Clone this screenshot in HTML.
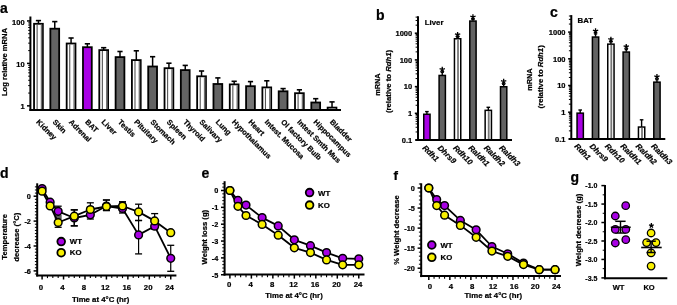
<!DOCTYPE html>
<html><head><meta charset="utf-8"><style>
html,body{margin:0;padding:0;background:#fff;width:677px;height:305px;overflow:hidden}
svg{display:block;will-change:transform}
text{font-family:"Liberation Sans", sans-serif;fill:#000;stroke:#000;stroke-width:0.22px}
</style></head><body>
<svg width="677" height="305" viewBox="0 0 677 305">
<rect width="677" height="305" fill="#fff"/>
<text x="0" y="13.3" font-size="14" font-weight="bold" text-anchor="start">a</text>
<line x1="38.45" y1="20.6" x2="38.45" y2="23.9" stroke="#000" stroke-width="1.5" stroke-linecap="butt"/>
<line x1="35.85" y1="20.6" x2="41.05" y2="20.6" stroke="#000" stroke-width="1.6" stroke-linecap="butt"/>
<rect x="34.05" y="23.8" width="8.8" height="86.1" fill="#fff" stroke="#000" stroke-width="1.8"/>
<rect x="36.57" y="24.7" width="1.1" height="85.2" fill="#555555"/>
<rect x="40.78" y="24.7" width="1.5" height="85.2" fill="#707070"/>
<text x="35.85" y="122.6" font-size="7.5" font-weight="bold" text-anchor="start" transform="rotate(45 35.85 122.6)">Kidney</text>
<line x1="54.76" y1="21.6" x2="54.76" y2="28.8" stroke="#000" stroke-width="1.5" stroke-linecap="butt"/>
<line x1="52.16" y1="21.6" x2="57.36" y2="21.6" stroke="#000" stroke-width="1.6" stroke-linecap="butt"/>
<rect x="50.36" y="28.7" width="8.8" height="81.2" fill="#636363" stroke="#000" stroke-width="1.8"/>
<text x="52.16" y="122.6" font-size="7.5" font-weight="bold" text-anchor="start" transform="rotate(45 52.16 122.6)">Skin</text>
<line x1="71.07" y1="38" x2="71.07" y2="43.6" stroke="#000" stroke-width="1.5" stroke-linecap="butt"/>
<line x1="68.47" y1="38" x2="73.67" y2="38" stroke="#000" stroke-width="1.6" stroke-linecap="butt"/>
<rect x="66.67" y="43.5" width="8.8" height="66.4" fill="#fff" stroke="#000" stroke-width="1.8"/>
<rect x="69.19" y="44.4" width="1.1" height="65.5" fill="#555555"/>
<rect x="73.4" y="44.4" width="1.5" height="65.5" fill="#707070"/>
<text x="68.47" y="122.6" font-size="7.5" font-weight="bold" text-anchor="start" transform="rotate(45 68.47 122.6)">Adrenal</text>
<line x1="87.38" y1="43.8" x2="87.38" y2="47.3" stroke="#000" stroke-width="1.5" stroke-linecap="butt"/>
<line x1="84.78" y1="43.8" x2="89.98" y2="43.8" stroke="#000" stroke-width="1.6" stroke-linecap="butt"/>
<rect x="82.98" y="47.2" width="8.8" height="62.7" fill="#a800e4" stroke="#000" stroke-width="1.8"/>
<text x="84.78" y="122.6" font-size="7.5" font-weight="bold" text-anchor="start" transform="rotate(45 84.78 122.6)">BAT</text>
<line x1="103.69" y1="47.7" x2="103.69" y2="50.2" stroke="#000" stroke-width="1.5" stroke-linecap="butt"/>
<line x1="101.09" y1="47.7" x2="106.29" y2="47.7" stroke="#000" stroke-width="1.6" stroke-linecap="butt"/>
<rect x="99.29" y="50.1" width="8.8" height="59.8" fill="#fff" stroke="#000" stroke-width="1.8"/>
<rect x="101.81" y="51" width="1.1" height="58.9" fill="#555555"/>
<rect x="106.02" y="51" width="1.5" height="58.9" fill="#707070"/>
<text x="101.09" y="122.6" font-size="7.5" font-weight="bold" text-anchor="start" transform="rotate(45 101.09 122.6)">Liver</text>
<line x1="120" y1="51.5" x2="120" y2="57.2" stroke="#000" stroke-width="1.5" stroke-linecap="butt"/>
<line x1="117.4" y1="51.5" x2="122.6" y2="51.5" stroke="#000" stroke-width="1.6" stroke-linecap="butt"/>
<rect x="115.6" y="57.1" width="8.8" height="52.8" fill="#636363" stroke="#000" stroke-width="1.8"/>
<text x="117.4" y="122.6" font-size="7.5" font-weight="bold" text-anchor="start" transform="rotate(45 117.4 122.6)">Testis</text>
<line x1="136.31" y1="50.8" x2="136.31" y2="60.2" stroke="#000" stroke-width="1.5" stroke-linecap="butt"/>
<line x1="133.71" y1="50.8" x2="138.91" y2="50.8" stroke="#000" stroke-width="1.6" stroke-linecap="butt"/>
<rect x="131.91" y="60.1" width="8.8" height="49.8" fill="#fff" stroke="#000" stroke-width="1.8"/>
<rect x="134.43" y="61" width="1.1" height="48.9" fill="#555555"/>
<rect x="138.64" y="61" width="1.5" height="48.9" fill="#707070"/>
<text x="133.71" y="122.6" font-size="7.5" font-weight="bold" text-anchor="start" transform="rotate(45 133.71 122.6)">Pituitary</text>
<line x1="152.62" y1="56.7" x2="152.62" y2="66.6" stroke="#000" stroke-width="1.5" stroke-linecap="butt"/>
<line x1="150.02" y1="56.7" x2="155.22" y2="56.7" stroke="#000" stroke-width="1.6" stroke-linecap="butt"/>
<rect x="148.22" y="66.5" width="8.8" height="43.4" fill="#636363" stroke="#000" stroke-width="1.8"/>
<text x="150.02" y="122.6" font-size="7.5" font-weight="bold" text-anchor="start" transform="rotate(45 150.02 122.6)">Stomach</text>
<line x1="168.93" y1="63.2" x2="168.93" y2="68.3" stroke="#000" stroke-width="1.5" stroke-linecap="butt"/>
<line x1="166.33" y1="63.2" x2="171.53" y2="63.2" stroke="#000" stroke-width="1.6" stroke-linecap="butt"/>
<rect x="164.53" y="68.2" width="8.8" height="41.7" fill="#fff" stroke="#000" stroke-width="1.8"/>
<rect x="167.05" y="69.1" width="1.1" height="40.8" fill="#555555"/>
<rect x="171.26" y="69.1" width="1.5" height="40.8" fill="#707070"/>
<text x="166.33" y="122.6" font-size="7.5" font-weight="bold" text-anchor="start" transform="rotate(45 166.33 122.6)">Spleen</text>
<line x1="185.24" y1="65.4" x2="185.24" y2="70.2" stroke="#000" stroke-width="1.5" stroke-linecap="butt"/>
<line x1="182.64" y1="65.4" x2="187.84" y2="65.4" stroke="#000" stroke-width="1.6" stroke-linecap="butt"/>
<rect x="180.84" y="70.1" width="8.8" height="39.8" fill="#636363" stroke="#000" stroke-width="1.8"/>
<text x="182.64" y="122.6" font-size="7.5" font-weight="bold" text-anchor="start" transform="rotate(45 182.64 122.6)">Thyroid</text>
<line x1="201.55" y1="71" x2="201.55" y2="76.4" stroke="#000" stroke-width="1.5" stroke-linecap="butt"/>
<line x1="198.95" y1="71" x2="204.15" y2="71" stroke="#000" stroke-width="1.6" stroke-linecap="butt"/>
<rect x="197.15" y="76.3" width="8.8" height="33.6" fill="#fff" stroke="#000" stroke-width="1.8"/>
<rect x="199.67" y="77.2" width="1.1" height="32.7" fill="#555555"/>
<rect x="203.88" y="77.2" width="1.5" height="32.7" fill="#707070"/>
<text x="198.95" y="122.6" font-size="7.5" font-weight="bold" text-anchor="start" transform="rotate(45 198.95 122.6)">Salivary</text>
<line x1="217.86" y1="77.9" x2="217.86" y2="84.1" stroke="#000" stroke-width="1.5" stroke-linecap="butt"/>
<line x1="215.26" y1="77.9" x2="220.46" y2="77.9" stroke="#000" stroke-width="1.6" stroke-linecap="butt"/>
<rect x="213.46" y="84" width="8.8" height="25.9" fill="#636363" stroke="#000" stroke-width="1.8"/>
<text x="215.26" y="122.6" font-size="7.5" font-weight="bold" text-anchor="start" transform="rotate(45 215.26 122.6)">Lung</text>
<line x1="234.17" y1="81.3" x2="234.17" y2="84.5" stroke="#000" stroke-width="1.5" stroke-linecap="butt"/>
<line x1="231.57" y1="81.3" x2="236.77" y2="81.3" stroke="#000" stroke-width="1.6" stroke-linecap="butt"/>
<rect x="229.77" y="84.4" width="8.8" height="25.5" fill="#fff" stroke="#000" stroke-width="1.8"/>
<rect x="232.29" y="85.3" width="1.1" height="24.6" fill="#555555"/>
<rect x="236.5" y="85.3" width="1.5" height="24.6" fill="#707070"/>
<text x="231.57" y="122.6" font-size="7.5" font-weight="bold" text-anchor="start" transform="rotate(45 231.57 122.6)">Hypothalamus</text>
<line x1="250.48" y1="81.6" x2="250.48" y2="86.3" stroke="#000" stroke-width="1.5" stroke-linecap="butt"/>
<line x1="247.88" y1="81.6" x2="253.08" y2="81.6" stroke="#000" stroke-width="1.6" stroke-linecap="butt"/>
<rect x="246.08" y="86.2" width="8.8" height="23.7" fill="#767676" stroke="#000" stroke-width="1.8"/>
<text x="247.88" y="122.6" font-size="7.5" font-weight="bold" text-anchor="start" transform="rotate(45 247.88 122.6)">Heart</text>
<line x1="266.79" y1="80.8" x2="266.79" y2="87.5" stroke="#000" stroke-width="1.5" stroke-linecap="butt"/>
<line x1="264.19" y1="80.8" x2="269.39" y2="80.8" stroke="#000" stroke-width="1.6" stroke-linecap="butt"/>
<rect x="262.39" y="87.4" width="8.8" height="22.5" fill="#fff" stroke="#000" stroke-width="1.8"/>
<rect x="264.91" y="88.3" width="1.1" height="21.6" fill="#555555"/>
<rect x="269.12" y="88.3" width="1.5" height="21.6" fill="#707070"/>
<text x="264.19" y="122.6" font-size="7.5" font-weight="bold" text-anchor="start" transform="rotate(45 264.19 122.6)">Intest. Mucosa</text>
<line x1="283.1" y1="88.6" x2="283.1" y2="91.4" stroke="#000" stroke-width="1.5" stroke-linecap="butt"/>
<line x1="280.5" y1="88.6" x2="285.7" y2="88.6" stroke="#000" stroke-width="1.6" stroke-linecap="butt"/>
<rect x="278.7" y="91.3" width="8.8" height="18.6" fill="#636363" stroke="#000" stroke-width="1.8"/>
<text x="280.5" y="122.6" font-size="7.5" font-weight="bold" text-anchor="start" transform="rotate(45 280.5 122.6)">Ol factory Bulb</text>
<line x1="299.41" y1="89.8" x2="299.41" y2="93.3" stroke="#000" stroke-width="1.5" stroke-linecap="butt"/>
<line x1="296.81" y1="89.8" x2="302.01" y2="89.8" stroke="#000" stroke-width="1.6" stroke-linecap="butt"/>
<rect x="295.01" y="93.2" width="8.8" height="16.7" fill="#fff" stroke="#000" stroke-width="1.8"/>
<rect x="297.53" y="94.1" width="1.1" height="15.8" fill="#555555"/>
<rect x="301.74" y="94.1" width="1.5" height="15.8" fill="#707070"/>
<text x="296.81" y="122.6" font-size="7.5" font-weight="bold" text-anchor="start" transform="rotate(45 296.81 122.6)">Intest Smth Mus</text>
<line x1="315.72" y1="98.7" x2="315.72" y2="102.6" stroke="#000" stroke-width="1.5" stroke-linecap="butt"/>
<line x1="313.12" y1="98.7" x2="318.32" y2="98.7" stroke="#000" stroke-width="1.6" stroke-linecap="butt"/>
<rect x="311.32" y="102.5" width="8.8" height="7.4" fill="#636363" stroke="#000" stroke-width="1.8"/>
<text x="313.12" y="122.6" font-size="7.5" font-weight="bold" text-anchor="start" transform="rotate(45 313.12 122.6)">Hippocampus</text>
<line x1="332.03" y1="101.9" x2="332.03" y2="107.7" stroke="#000" stroke-width="1.5" stroke-linecap="butt"/>
<line x1="329.43" y1="101.9" x2="334.63" y2="101.9" stroke="#000" stroke-width="1.6" stroke-linecap="butt"/>
<rect x="327.63" y="107.6" width="8.8" height="2.3" fill="#fff" stroke="#000" stroke-width="1.8"/>
<rect x="330.15" y="108.5" width="1.1" height="1.4" fill="#555555"/>
<rect x="334.36" y="108.5" width="1.5" height="1.4" fill="#707070"/>
<text x="329.43" y="122.6" font-size="7.5" font-weight="bold" text-anchor="start" transform="rotate(45 329.43 122.6)">Bladder</text>
<line x1="30.4" y1="16.5" x2="30.4" y2="110.9" stroke="#000" stroke-width="2" stroke-linecap="butt"/>
<line x1="29.4" y1="109.9" x2="341" y2="109.9" stroke="#000" stroke-width="2" stroke-linecap="butt"/>
<line x1="27" y1="20.95" x2="30.4" y2="20.95" stroke="#000" stroke-width="1.5" stroke-linecap="butt"/>
<text x="24.6" y="24.55" font-size="7.5" font-weight="bold" text-anchor="end">100</text>
<line x1="27" y1="63.4" x2="30.4" y2="63.4" stroke="#000" stroke-width="1.5" stroke-linecap="butt"/>
<text x="24.6" y="67" font-size="7.5" font-weight="bold" text-anchor="end">10</text>
<line x1="27" y1="105.85" x2="30.4" y2="105.85" stroke="#000" stroke-width="1.5" stroke-linecap="butt"/>
<text x="24.6" y="109.45" font-size="7.5" font-weight="bold" text-anchor="end">1</text>
<line x1="28.2" y1="93.07" x2="30.4" y2="93.07" stroke="#000" stroke-width="1" stroke-linecap="butt"/>
<line x1="28.2" y1="85.6" x2="30.4" y2="85.6" stroke="#000" stroke-width="1" stroke-linecap="butt"/>
<line x1="28.2" y1="80.29" x2="30.4" y2="80.29" stroke="#000" stroke-width="1" stroke-linecap="butt"/>
<line x1="28.2" y1="76.18" x2="30.4" y2="76.18" stroke="#000" stroke-width="1" stroke-linecap="butt"/>
<line x1="28.2" y1="72.82" x2="30.4" y2="72.82" stroke="#000" stroke-width="1" stroke-linecap="butt"/>
<line x1="28.2" y1="69.98" x2="30.4" y2="69.98" stroke="#000" stroke-width="1" stroke-linecap="butt"/>
<line x1="28.2" y1="67.51" x2="30.4" y2="67.51" stroke="#000" stroke-width="1" stroke-linecap="butt"/>
<line x1="28.2" y1="65.34" x2="30.4" y2="65.34" stroke="#000" stroke-width="1" stroke-linecap="butt"/>
<line x1="28.2" y1="50.62" x2="30.4" y2="50.62" stroke="#000" stroke-width="1" stroke-linecap="butt"/>
<line x1="28.2" y1="43.15" x2="30.4" y2="43.15" stroke="#000" stroke-width="1" stroke-linecap="butt"/>
<line x1="28.2" y1="37.84" x2="30.4" y2="37.84" stroke="#000" stroke-width="1" stroke-linecap="butt"/>
<line x1="28.2" y1="33.73" x2="30.4" y2="33.73" stroke="#000" stroke-width="1" stroke-linecap="butt"/>
<line x1="28.2" y1="30.37" x2="30.4" y2="30.37" stroke="#000" stroke-width="1" stroke-linecap="butt"/>
<line x1="28.2" y1="27.53" x2="30.4" y2="27.53" stroke="#000" stroke-width="1" stroke-linecap="butt"/>
<line x1="28.2" y1="25.06" x2="30.4" y2="25.06" stroke="#000" stroke-width="1" stroke-linecap="butt"/>
<line x1="28.2" y1="22.89" x2="30.4" y2="22.89" stroke="#000" stroke-width="1" stroke-linecap="butt"/>
<text x="7.3" y="62" font-size="7" font-weight="bold" text-anchor="middle" transform="rotate(-90 7.3 62)" textLength="68.2" lengthAdjust="spacingAndGlyphs">Log relative mRNA</text>
<line x1="426.9" y1="111.6" x2="426.9" y2="114.5" stroke="#000" stroke-width="1.4" stroke-linecap="butt"/>
<line x1="425.1" y1="111.6" x2="428.7" y2="111.6" stroke="#000" stroke-width="1.4" stroke-linecap="butt"/>
<rect x="423.75" y="114.25" width="6.3" height="25.75" fill="#a800e4" stroke="#000" stroke-width="1.5"/>
<text x="422" y="148.4" font-size="7.8" font-weight="bold" text-anchor="start" font-style="italic" transform="rotate(45 422 148.4)">Rdh1</text>
<rect x="439.1" y="75.45" width="6.3" height="64.55" fill="#636363" stroke="#000" stroke-width="1.5"/>
<line x1="442.25" y1="70.5" x2="442.25" y2="75.2" stroke="#000" stroke-width="1.4" stroke-linecap="butt"/>
<line x1="440.65" y1="72.4" x2="443.85" y2="72.4" stroke="#000" stroke-width="1.3" stroke-linecap="butt"/>
<path d="M442.25,69.5L442.25,66.7M442.25,69.5L444.91,68.63M442.25,69.5L443.9,71.77M442.25,69.5L440.6,71.77M442.25,69.5L439.59,68.63" stroke="#000" stroke-width="1.3" stroke-linecap="butt" fill="none"/>
<text x="437.35" y="148.4" font-size="7.8" font-weight="bold" text-anchor="start" font-style="italic" transform="rotate(45 437.35 148.4)">Dhrs9</text>
<line x1="457.6" y1="36.5" x2="457.6" y2="39" stroke="#000" stroke-width="1.4" stroke-linecap="butt"/>
<line x1="455.8" y1="36.5" x2="459.4" y2="36.5" stroke="#000" stroke-width="1.4" stroke-linecap="butt"/>
<rect x="454.45" y="38.75" width="6.3" height="101.25" fill="#fff" stroke="#000" stroke-width="1.5"/>
<rect x="457.1" y="39.5" width="1.8" height="100.5" fill="#777777"/>
<line x1="457.6" y1="35.7" x2="457.6" y2="38.5" stroke="#000" stroke-width="1.4" stroke-linecap="butt"/>
<line x1="456.1" y1="37" x2="459.1" y2="37" stroke="#000" stroke-width="1.6" stroke-linecap="butt"/>
<path d="M457.6,34.7L457.6,31.9M457.6,34.7L460.26,33.83M457.6,34.7L459.25,36.97M457.6,34.7L455.95,36.97M457.6,34.7L454.94,33.83" stroke="#000" stroke-width="1.3" stroke-linecap="butt" fill="none"/>
<text x="452.7" y="148.4" font-size="7.8" font-weight="bold" text-anchor="start" font-style="italic" transform="rotate(45 452.7 148.4)">Rdh10</text>
<rect x="469.8" y="21.05" width="6.3" height="118.95" fill="#636363" stroke="#000" stroke-width="1.5"/>
<line x1="472.95" y1="18" x2="472.95" y2="20.8" stroke="#000" stroke-width="1.4" stroke-linecap="butt"/>
<line x1="471.45" y1="19.3" x2="474.45" y2="19.3" stroke="#000" stroke-width="1.6" stroke-linecap="butt"/>
<path d="M472.95,17L472.95,14.2M472.95,17L475.61,16.13M472.95,17L474.6,19.27M472.95,17L471.3,19.27M472.95,17L470.29,16.13" stroke="#000" stroke-width="1.3" stroke-linecap="butt" fill="none"/>
<text x="468.05" y="148.4" font-size="7.8" font-weight="bold" text-anchor="start" font-style="italic" transform="rotate(45 468.05 148.4)">Raldh1</text>
<line x1="488.3" y1="107.3" x2="488.3" y2="110.6" stroke="#000" stroke-width="1.4" stroke-linecap="butt"/>
<line x1="486.5" y1="107.3" x2="490.1" y2="107.3" stroke="#000" stroke-width="1.4" stroke-linecap="butt"/>
<rect x="485.15" y="110.35" width="6.3" height="29.65" fill="#fff" stroke="#000" stroke-width="1.5"/>
<rect x="487.8" y="111.1" width="1.8" height="28.9" fill="#777777"/>
<text x="483.4" y="148.4" font-size="7.8" font-weight="bold" text-anchor="start" font-style="italic" transform="rotate(45 483.4 148.4)">Raldh2</text>
<rect x="500.5" y="86.75" width="6.3" height="53.25" fill="#636363" stroke="#000" stroke-width="1.5"/>
<line x1="503.65" y1="82.5" x2="503.65" y2="86.5" stroke="#000" stroke-width="1.4" stroke-linecap="butt"/>
<line x1="502.05" y1="84.4" x2="505.25" y2="84.4" stroke="#000" stroke-width="1.3" stroke-linecap="butt"/>
<path d="M503.65,81.5L503.65,78.7M503.65,81.5L506.31,80.63M503.65,81.5L505.3,83.77M503.65,81.5L502,83.77M503.65,81.5L500.99,80.63" stroke="#000" stroke-width="1.3" stroke-linecap="butt" fill="none"/>
<text x="498.75" y="148.4" font-size="7.8" font-weight="bold" text-anchor="start" font-style="italic" transform="rotate(45 498.75 148.4)">Raldh3</text>
<line x1="418" y1="16.2" x2="418" y2="141" stroke="#000" stroke-width="2" stroke-linecap="butt"/>
<line x1="415.2" y1="140" x2="512" y2="140" stroke="#000" stroke-width="2" stroke-linecap="butt"/>
<line x1="414.8" y1="33.2" x2="418" y2="33.2" stroke="#000" stroke-width="1.5" stroke-linecap="butt"/>
<text x="412.2" y="36" font-size="7.5" font-weight="bold" text-anchor="end">1000</text>
<line x1="414.8" y1="59.9" x2="418" y2="59.9" stroke="#000" stroke-width="1.5" stroke-linecap="butt"/>
<text x="412.2" y="62.7" font-size="7.5" font-weight="bold" text-anchor="end">100</text>
<line x1="414.8" y1="86.6" x2="418" y2="86.6" stroke="#000" stroke-width="1.5" stroke-linecap="butt"/>
<text x="412.2" y="89.4" font-size="7.5" font-weight="bold" text-anchor="end">10</text>
<line x1="414.8" y1="113.3" x2="418" y2="113.3" stroke="#000" stroke-width="1.5" stroke-linecap="butt"/>
<text x="412.2" y="116.1" font-size="7.5" font-weight="bold" text-anchor="end">1</text>
<text x="412.2" y="142.8" font-size="7.5" font-weight="bold" text-anchor="end">0.1</text>
<line x1="415.6" y1="131.96" x2="418" y2="131.96" stroke="#000" stroke-width="1" stroke-linecap="butt"/>
<line x1="415.6" y1="127.26" x2="418" y2="127.26" stroke="#000" stroke-width="1" stroke-linecap="butt"/>
<line x1="415.6" y1="123.92" x2="418" y2="123.92" stroke="#000" stroke-width="1" stroke-linecap="butt"/>
<line x1="415.6" y1="121.34" x2="418" y2="121.34" stroke="#000" stroke-width="1" stroke-linecap="butt"/>
<line x1="415.6" y1="119.22" x2="418" y2="119.22" stroke="#000" stroke-width="1" stroke-linecap="butt"/>
<line x1="415.6" y1="117.44" x2="418" y2="117.44" stroke="#000" stroke-width="1" stroke-linecap="butt"/>
<line x1="415.6" y1="115.89" x2="418" y2="115.89" stroke="#000" stroke-width="1" stroke-linecap="butt"/>
<line x1="415.6" y1="114.52" x2="418" y2="114.52" stroke="#000" stroke-width="1" stroke-linecap="butt"/>
<line x1="415.6" y1="105.26" x2="418" y2="105.26" stroke="#000" stroke-width="1" stroke-linecap="butt"/>
<line x1="415.6" y1="100.56" x2="418" y2="100.56" stroke="#000" stroke-width="1" stroke-linecap="butt"/>
<line x1="415.6" y1="97.22" x2="418" y2="97.22" stroke="#000" stroke-width="1" stroke-linecap="butt"/>
<line x1="415.6" y1="94.64" x2="418" y2="94.64" stroke="#000" stroke-width="1" stroke-linecap="butt"/>
<line x1="415.6" y1="92.52" x2="418" y2="92.52" stroke="#000" stroke-width="1" stroke-linecap="butt"/>
<line x1="415.6" y1="90.74" x2="418" y2="90.74" stroke="#000" stroke-width="1" stroke-linecap="butt"/>
<line x1="415.6" y1="89.19" x2="418" y2="89.19" stroke="#000" stroke-width="1" stroke-linecap="butt"/>
<line x1="415.6" y1="87.82" x2="418" y2="87.82" stroke="#000" stroke-width="1" stroke-linecap="butt"/>
<line x1="415.6" y1="78.56" x2="418" y2="78.56" stroke="#000" stroke-width="1" stroke-linecap="butt"/>
<line x1="415.6" y1="73.86" x2="418" y2="73.86" stroke="#000" stroke-width="1" stroke-linecap="butt"/>
<line x1="415.6" y1="70.52" x2="418" y2="70.52" stroke="#000" stroke-width="1" stroke-linecap="butt"/>
<line x1="415.6" y1="67.94" x2="418" y2="67.94" stroke="#000" stroke-width="1" stroke-linecap="butt"/>
<line x1="415.6" y1="65.82" x2="418" y2="65.82" stroke="#000" stroke-width="1" stroke-linecap="butt"/>
<line x1="415.6" y1="64.04" x2="418" y2="64.04" stroke="#000" stroke-width="1" stroke-linecap="butt"/>
<line x1="415.6" y1="62.49" x2="418" y2="62.49" stroke="#000" stroke-width="1" stroke-linecap="butt"/>
<line x1="415.6" y1="61.12" x2="418" y2="61.12" stroke="#000" stroke-width="1" stroke-linecap="butt"/>
<line x1="415.6" y1="51.86" x2="418" y2="51.86" stroke="#000" stroke-width="1" stroke-linecap="butt"/>
<line x1="415.6" y1="47.16" x2="418" y2="47.16" stroke="#000" stroke-width="1" stroke-linecap="butt"/>
<line x1="415.6" y1="43.82" x2="418" y2="43.82" stroke="#000" stroke-width="1" stroke-linecap="butt"/>
<line x1="415.6" y1="41.24" x2="418" y2="41.24" stroke="#000" stroke-width="1" stroke-linecap="butt"/>
<line x1="415.6" y1="39.12" x2="418" y2="39.12" stroke="#000" stroke-width="1" stroke-linecap="butt"/>
<line x1="415.6" y1="37.34" x2="418" y2="37.34" stroke="#000" stroke-width="1" stroke-linecap="butt"/>
<line x1="415.6" y1="35.79" x2="418" y2="35.79" stroke="#000" stroke-width="1" stroke-linecap="butt"/>
<line x1="415.6" y1="34.42" x2="418" y2="34.42" stroke="#000" stroke-width="1" stroke-linecap="butt"/>
<line x1="415.6" y1="25.16" x2="418" y2="25.16" stroke="#000" stroke-width="1" stroke-linecap="butt"/>
<line x1="415.6" y1="20.46" x2="418" y2="20.46" stroke="#000" stroke-width="1" stroke-linecap="butt"/>
<line x1="415.6" y1="17.12" x2="418" y2="17.12" stroke="#000" stroke-width="1" stroke-linecap="butt"/>
<text x="424.8" y="25" font-size="7.8" font-weight="bold" text-anchor="start">Liver</text>
<text x="376" y="20" font-size="14" font-weight="bold" text-anchor="start">b</text>
<text x="380.3" y="84.6" font-size="7" font-weight="bold" text-anchor="middle" transform="rotate(-90 380.3 84.6)" textLength="22.5" lengthAdjust="spacingAndGlyphs">mRNA</text>
<text x="391.3" y="81.4" font-size="7" font-weight="bold" text-anchor="middle" transform="rotate(-90 391.3 81.4)" textLength="63.2" lengthAdjust="spacingAndGlyphs">(relative to <tspan font-style="italic">Rdh1</tspan>)</text>
<line x1="580.2" y1="110" x2="580.2" y2="113.4" stroke="#000" stroke-width="1.4" stroke-linecap="butt"/>
<line x1="578.4" y1="110" x2="582" y2="110" stroke="#000" stroke-width="1.4" stroke-linecap="butt"/>
<rect x="577.05" y="113.15" width="6.3" height="25.75" fill="#a800e4" stroke="#000" stroke-width="1.5"/>
<text x="573.9" y="146.8" font-size="7.8" font-weight="bold" text-anchor="start" font-style="italic" transform="rotate(45 573.9 146.8)">Rdh1</text>
<rect x="592.4" y="37.05" width="6.3" height="101.85" fill="#636363" stroke="#000" stroke-width="1.5"/>
<line x1="595.55" y1="32.1" x2="595.55" y2="36.8" stroke="#000" stroke-width="1.4" stroke-linecap="butt"/>
<line x1="593.95" y1="34" x2="597.15" y2="34" stroke="#000" stroke-width="1.3" stroke-linecap="butt"/>
<path d="M595.55,31.1L595.55,28.3M595.55,31.1L598.21,30.23M595.55,31.1L597.2,33.37M595.55,31.1L593.9,33.37M595.55,31.1L592.89,30.23" stroke="#000" stroke-width="1.3" stroke-linecap="butt" fill="none"/>
<text x="589.25" y="146.8" font-size="7.8" font-weight="bold" text-anchor="start" font-style="italic" transform="rotate(45 589.25 146.8)">Dhrs9</text>
<rect x="607.75" y="44.15" width="6.3" height="94.75" fill="#fff" stroke="#000" stroke-width="1.5"/>
<rect x="610.4" y="44.9" width="1.8" height="94" fill="#777777"/>
<line x1="610.9" y1="40.5" x2="610.9" y2="43.9" stroke="#000" stroke-width="1.4" stroke-linecap="butt"/>
<line x1="609.4" y1="41.8" x2="612.4" y2="41.8" stroke="#000" stroke-width="1.6" stroke-linecap="butt"/>
<path d="M610.9,39.5L610.9,36.7M610.9,39.5L613.56,38.63M610.9,39.5L612.55,41.77M610.9,39.5L609.25,41.77M610.9,39.5L608.24,38.63" stroke="#000" stroke-width="1.3" stroke-linecap="butt" fill="none"/>
<text x="604.6" y="146.8" font-size="7.8" font-weight="bold" text-anchor="start" font-style="italic" transform="rotate(45 604.6 146.8)">Rdh10</text>
<rect x="623.1" y="52.05" width="6.3" height="86.85" fill="#636363" stroke="#000" stroke-width="1.5"/>
<line x1="626.25" y1="47.7" x2="626.25" y2="51.8" stroke="#000" stroke-width="1.4" stroke-linecap="butt"/>
<line x1="624.65" y1="49.6" x2="627.85" y2="49.6" stroke="#000" stroke-width="1.3" stroke-linecap="butt"/>
<path d="M626.25,46.7L626.25,43.9M626.25,46.7L628.91,45.83M626.25,46.7L627.9,48.97M626.25,46.7L624.6,48.97M626.25,46.7L623.59,45.83" stroke="#000" stroke-width="1.3" stroke-linecap="butt" fill="none"/>
<text x="619.95" y="146.8" font-size="7.8" font-weight="bold" text-anchor="start" font-style="italic" transform="rotate(45 619.95 146.8)">Raldh1</text>
<line x1="641.6" y1="119.8" x2="641.6" y2="127.3" stroke="#000" stroke-width="1.4" stroke-linecap="butt"/>
<line x1="639.8" y1="119.8" x2="643.4" y2="119.8" stroke="#000" stroke-width="1.4" stroke-linecap="butt"/>
<rect x="638.45" y="127.05" width="6.3" height="11.85" fill="#fff" stroke="#000" stroke-width="1.5"/>
<rect x="641.1" y="127.8" width="1.8" height="11.1" fill="#777777"/>
<text x="635.3" y="146.8" font-size="7.8" font-weight="bold" text-anchor="start" font-style="italic" transform="rotate(45 635.3 146.8)">Raldh2</text>
<rect x="653.8" y="82.15" width="6.3" height="56.75" fill="#636363" stroke="#000" stroke-width="1.5"/>
<line x1="656.95" y1="77.8" x2="656.95" y2="81.9" stroke="#000" stroke-width="1.4" stroke-linecap="butt"/>
<line x1="655.35" y1="79.7" x2="658.55" y2="79.7" stroke="#000" stroke-width="1.3" stroke-linecap="butt"/>
<path d="M656.95,76.8L656.95,74M656.95,76.8L659.61,75.93M656.95,76.8L658.6,79.07M656.95,76.8L655.3,79.07M656.95,76.8L654.29,75.93" stroke="#000" stroke-width="1.3" stroke-linecap="butt" fill="none"/>
<text x="650.65" y="146.8" font-size="7.8" font-weight="bold" text-anchor="start" font-style="italic" transform="rotate(45 650.65 146.8)">Raldh3</text>
<line x1="571.3" y1="15.1" x2="571.3" y2="139.9" stroke="#000" stroke-width="2" stroke-linecap="butt"/>
<line x1="568.5" y1="138.9" x2="665.3" y2="138.9" stroke="#000" stroke-width="2" stroke-linecap="butt"/>
<line x1="568.1" y1="32.1" x2="571.3" y2="32.1" stroke="#000" stroke-width="1.5" stroke-linecap="butt"/>
<text x="565.5" y="34.9" font-size="7.5" font-weight="bold" text-anchor="end">1000</text>
<line x1="568.1" y1="58.8" x2="571.3" y2="58.8" stroke="#000" stroke-width="1.5" stroke-linecap="butt"/>
<text x="565.5" y="61.6" font-size="7.5" font-weight="bold" text-anchor="end">100</text>
<line x1="568.1" y1="85.5" x2="571.3" y2="85.5" stroke="#000" stroke-width="1.5" stroke-linecap="butt"/>
<text x="565.5" y="88.3" font-size="7.5" font-weight="bold" text-anchor="end">10</text>
<line x1="568.1" y1="112.2" x2="571.3" y2="112.2" stroke="#000" stroke-width="1.5" stroke-linecap="butt"/>
<text x="565.5" y="115" font-size="7.5" font-weight="bold" text-anchor="end">1</text>
<text x="565.5" y="141.7" font-size="7.5" font-weight="bold" text-anchor="end">0.1</text>
<line x1="568.9" y1="130.86" x2="571.3" y2="130.86" stroke="#000" stroke-width="1" stroke-linecap="butt"/>
<line x1="568.9" y1="126.16" x2="571.3" y2="126.16" stroke="#000" stroke-width="1" stroke-linecap="butt"/>
<line x1="568.9" y1="122.82" x2="571.3" y2="122.82" stroke="#000" stroke-width="1" stroke-linecap="butt"/>
<line x1="568.9" y1="120.24" x2="571.3" y2="120.24" stroke="#000" stroke-width="1" stroke-linecap="butt"/>
<line x1="568.9" y1="118.12" x2="571.3" y2="118.12" stroke="#000" stroke-width="1" stroke-linecap="butt"/>
<line x1="568.9" y1="116.34" x2="571.3" y2="116.34" stroke="#000" stroke-width="1" stroke-linecap="butt"/>
<line x1="568.9" y1="114.79" x2="571.3" y2="114.79" stroke="#000" stroke-width="1" stroke-linecap="butt"/>
<line x1="568.9" y1="113.42" x2="571.3" y2="113.42" stroke="#000" stroke-width="1" stroke-linecap="butt"/>
<line x1="568.9" y1="104.16" x2="571.3" y2="104.16" stroke="#000" stroke-width="1" stroke-linecap="butt"/>
<line x1="568.9" y1="99.46" x2="571.3" y2="99.46" stroke="#000" stroke-width="1" stroke-linecap="butt"/>
<line x1="568.9" y1="96.12" x2="571.3" y2="96.12" stroke="#000" stroke-width="1" stroke-linecap="butt"/>
<line x1="568.9" y1="93.54" x2="571.3" y2="93.54" stroke="#000" stroke-width="1" stroke-linecap="butt"/>
<line x1="568.9" y1="91.42" x2="571.3" y2="91.42" stroke="#000" stroke-width="1" stroke-linecap="butt"/>
<line x1="568.9" y1="89.64" x2="571.3" y2="89.64" stroke="#000" stroke-width="1" stroke-linecap="butt"/>
<line x1="568.9" y1="88.09" x2="571.3" y2="88.09" stroke="#000" stroke-width="1" stroke-linecap="butt"/>
<line x1="568.9" y1="86.72" x2="571.3" y2="86.72" stroke="#000" stroke-width="1" stroke-linecap="butt"/>
<line x1="568.9" y1="77.46" x2="571.3" y2="77.46" stroke="#000" stroke-width="1" stroke-linecap="butt"/>
<line x1="568.9" y1="72.76" x2="571.3" y2="72.76" stroke="#000" stroke-width="1" stroke-linecap="butt"/>
<line x1="568.9" y1="69.42" x2="571.3" y2="69.42" stroke="#000" stroke-width="1" stroke-linecap="butt"/>
<line x1="568.9" y1="66.84" x2="571.3" y2="66.84" stroke="#000" stroke-width="1" stroke-linecap="butt"/>
<line x1="568.9" y1="64.72" x2="571.3" y2="64.72" stroke="#000" stroke-width="1" stroke-linecap="butt"/>
<line x1="568.9" y1="62.94" x2="571.3" y2="62.94" stroke="#000" stroke-width="1" stroke-linecap="butt"/>
<line x1="568.9" y1="61.39" x2="571.3" y2="61.39" stroke="#000" stroke-width="1" stroke-linecap="butt"/>
<line x1="568.9" y1="60.02" x2="571.3" y2="60.02" stroke="#000" stroke-width="1" stroke-linecap="butt"/>
<line x1="568.9" y1="50.76" x2="571.3" y2="50.76" stroke="#000" stroke-width="1" stroke-linecap="butt"/>
<line x1="568.9" y1="46.06" x2="571.3" y2="46.06" stroke="#000" stroke-width="1" stroke-linecap="butt"/>
<line x1="568.9" y1="42.72" x2="571.3" y2="42.72" stroke="#000" stroke-width="1" stroke-linecap="butt"/>
<line x1="568.9" y1="40.14" x2="571.3" y2="40.14" stroke="#000" stroke-width="1" stroke-linecap="butt"/>
<line x1="568.9" y1="38.02" x2="571.3" y2="38.02" stroke="#000" stroke-width="1" stroke-linecap="butt"/>
<line x1="568.9" y1="36.24" x2="571.3" y2="36.24" stroke="#000" stroke-width="1" stroke-linecap="butt"/>
<line x1="568.9" y1="34.69" x2="571.3" y2="34.69" stroke="#000" stroke-width="1" stroke-linecap="butt"/>
<line x1="568.9" y1="33.32" x2="571.3" y2="33.32" stroke="#000" stroke-width="1" stroke-linecap="butt"/>
<line x1="568.9" y1="24.06" x2="571.3" y2="24.06" stroke="#000" stroke-width="1" stroke-linecap="butt"/>
<line x1="568.9" y1="19.36" x2="571.3" y2="19.36" stroke="#000" stroke-width="1" stroke-linecap="butt"/>
<line x1="568.9" y1="16.02" x2="571.3" y2="16.02" stroke="#000" stroke-width="1" stroke-linecap="butt"/>
<text x="577.6" y="22.7" font-size="7.8" font-weight="bold" text-anchor="start">BAT</text>
<text x="550" y="16.8" font-size="14" font-weight="bold" text-anchor="start">c</text>
<text x="532" y="79.6" font-size="7" font-weight="bold" text-anchor="middle" transform="rotate(-90 532 79.6)" textLength="22.5" lengthAdjust="spacingAndGlyphs">mRNA</text>
<text x="543.1" y="76.85" font-size="7" font-weight="bold" text-anchor="middle" transform="rotate(-90 543.1 76.85)" textLength="63.2" lengthAdjust="spacingAndGlyphs">(relative to <tspan font-style="italic">Rdh1</tspan>)</text>
<text x="0" y="178" font-size="14" font-weight="bold" text-anchor="start">d</text>
<line x1="37.2" y1="183.3" x2="37.2" y2="276.5" stroke="#000" stroke-width="2" stroke-linecap="butt"/>
<line x1="33.6" y1="196.2" x2="37.2" y2="196.2" stroke="#000" stroke-width="1.5" stroke-linecap="butt"/>
<text x="30.9" y="198.9" font-size="7.3" font-weight="bold" text-anchor="end">0</text>
<line x1="33.6" y1="221.1" x2="37.2" y2="221.1" stroke="#000" stroke-width="1.5" stroke-linecap="butt"/>
<text x="30.9" y="223.8" font-size="7.3" font-weight="bold" text-anchor="end">-2</text>
<line x1="33.6" y1="246" x2="37.2" y2="246" stroke="#000" stroke-width="1.5" stroke-linecap="butt"/>
<text x="30.9" y="248.7" font-size="7.3" font-weight="bold" text-anchor="end">-4</text>
<line x1="33.6" y1="270.9" x2="37.2" y2="270.9" stroke="#000" stroke-width="1.5" stroke-linecap="butt"/>
<text x="30.9" y="273.6" font-size="7.3" font-weight="bold" text-anchor="end">-6</text>
<line x1="34.9" y1="274.01" x2="37.2" y2="274.01" stroke="#000" stroke-width="1" stroke-linecap="butt"/>
<line x1="34.9" y1="267.79" x2="37.2" y2="267.79" stroke="#000" stroke-width="1" stroke-linecap="butt"/>
<line x1="34.9" y1="264.67" x2="37.2" y2="264.67" stroke="#000" stroke-width="1" stroke-linecap="butt"/>
<line x1="34.9" y1="261.56" x2="37.2" y2="261.56" stroke="#000" stroke-width="1" stroke-linecap="butt"/>
<line x1="34.9" y1="258.45" x2="37.2" y2="258.45" stroke="#000" stroke-width="1" stroke-linecap="butt"/>
<line x1="34.9" y1="255.34" x2="37.2" y2="255.34" stroke="#000" stroke-width="1" stroke-linecap="butt"/>
<line x1="34.9" y1="252.22" x2="37.2" y2="252.22" stroke="#000" stroke-width="1" stroke-linecap="butt"/>
<line x1="34.9" y1="249.11" x2="37.2" y2="249.11" stroke="#000" stroke-width="1" stroke-linecap="butt"/>
<line x1="34.9" y1="242.89" x2="37.2" y2="242.89" stroke="#000" stroke-width="1" stroke-linecap="butt"/>
<line x1="34.9" y1="239.77" x2="37.2" y2="239.77" stroke="#000" stroke-width="1" stroke-linecap="butt"/>
<line x1="34.9" y1="236.66" x2="37.2" y2="236.66" stroke="#000" stroke-width="1" stroke-linecap="butt"/>
<line x1="34.9" y1="233.55" x2="37.2" y2="233.55" stroke="#000" stroke-width="1" stroke-linecap="butt"/>
<line x1="34.9" y1="230.44" x2="37.2" y2="230.44" stroke="#000" stroke-width="1" stroke-linecap="butt"/>
<line x1="34.9" y1="227.32" x2="37.2" y2="227.32" stroke="#000" stroke-width="1" stroke-linecap="butt"/>
<line x1="34.9" y1="224.21" x2="37.2" y2="224.21" stroke="#000" stroke-width="1" stroke-linecap="butt"/>
<line x1="34.9" y1="217.99" x2="37.2" y2="217.99" stroke="#000" stroke-width="1" stroke-linecap="butt"/>
<line x1="34.9" y1="214.88" x2="37.2" y2="214.88" stroke="#000" stroke-width="1" stroke-linecap="butt"/>
<line x1="34.9" y1="211.76" x2="37.2" y2="211.76" stroke="#000" stroke-width="1" stroke-linecap="butt"/>
<line x1="34.9" y1="208.65" x2="37.2" y2="208.65" stroke="#000" stroke-width="1" stroke-linecap="butt"/>
<line x1="34.9" y1="205.54" x2="37.2" y2="205.54" stroke="#000" stroke-width="1" stroke-linecap="butt"/>
<line x1="34.9" y1="202.42" x2="37.2" y2="202.42" stroke="#000" stroke-width="1" stroke-linecap="butt"/>
<line x1="34.9" y1="199.31" x2="37.2" y2="199.31" stroke="#000" stroke-width="1" stroke-linecap="butt"/>
<line x1="34.9" y1="193.09" x2="37.2" y2="193.09" stroke="#000" stroke-width="1" stroke-linecap="butt"/>
<line x1="34.9" y1="189.97" x2="37.2" y2="189.97" stroke="#000" stroke-width="1" stroke-linecap="butt"/>
<line x1="34.9" y1="186.86" x2="37.2" y2="186.86" stroke="#000" stroke-width="1" stroke-linecap="butt"/>
<line x1="58.18" y1="206.2" x2="58.18" y2="216" stroke="#000" stroke-width="1.2" stroke-linecap="butt"/>
<line x1="54.68" y1="206.2" x2="61.68" y2="206.2" stroke="#000" stroke-width="1.3" stroke-linecap="butt"/>
<line x1="54.68" y1="216" x2="61.68" y2="216" stroke="#000" stroke-width="1.3" stroke-linecap="butt"/>
<line x1="74.26" y1="210" x2="74.26" y2="226" stroke="#000" stroke-width="1.2" stroke-linecap="butt"/>
<line x1="70.76" y1="210" x2="77.76" y2="210" stroke="#000" stroke-width="1.3" stroke-linecap="butt"/>
<line x1="70.76" y1="226" x2="77.76" y2="226" stroke="#000" stroke-width="1.3" stroke-linecap="butt"/>
<line x1="90.34" y1="207" x2="90.34" y2="219" stroke="#000" stroke-width="1.2" stroke-linecap="butt"/>
<line x1="86.84" y1="207" x2="93.84" y2="207" stroke="#000" stroke-width="1.3" stroke-linecap="butt"/>
<line x1="86.84" y1="219" x2="93.84" y2="219" stroke="#000" stroke-width="1.3" stroke-linecap="butt"/>
<line x1="106.42" y1="200" x2="106.42" y2="210.5" stroke="#000" stroke-width="1.2" stroke-linecap="butt"/>
<line x1="102.92" y1="200" x2="109.92" y2="200" stroke="#000" stroke-width="1.3" stroke-linecap="butt"/>
<line x1="102.92" y1="210.5" x2="109.92" y2="210.5" stroke="#000" stroke-width="1.3" stroke-linecap="butt"/>
<line x1="122.5" y1="202" x2="122.5" y2="213" stroke="#000" stroke-width="1.2" stroke-linecap="butt"/>
<line x1="119" y1="202" x2="126" y2="202" stroke="#000" stroke-width="1.3" stroke-linecap="butt"/>
<line x1="119" y1="213" x2="126" y2="213" stroke="#000" stroke-width="1.3" stroke-linecap="butt"/>
<line x1="138.58" y1="220.5" x2="138.58" y2="253.9" stroke="#000" stroke-width="1.2" stroke-linecap="butt"/>
<line x1="135.08" y1="220.5" x2="142.08" y2="220.5" stroke="#000" stroke-width="1.3" stroke-linecap="butt"/>
<line x1="135.08" y1="253.9" x2="142.08" y2="253.9" stroke="#000" stroke-width="1.3" stroke-linecap="butt"/>
<line x1="154.66" y1="222" x2="154.66" y2="229.2" stroke="#000" stroke-width="1.2" stroke-linecap="butt"/>
<line x1="151.16" y1="222" x2="158.16" y2="222" stroke="#000" stroke-width="1.3" stroke-linecap="butt"/>
<line x1="151.16" y1="229.2" x2="158.16" y2="229.2" stroke="#000" stroke-width="1.3" stroke-linecap="butt"/>
<line x1="170.74" y1="245.3" x2="170.74" y2="271.3" stroke="#000" stroke-width="1.2" stroke-linecap="butt"/>
<line x1="167.24" y1="245.3" x2="174.24" y2="245.3" stroke="#000" stroke-width="1.3" stroke-linecap="butt"/>
<line x1="167.24" y1="271.3" x2="174.24" y2="271.3" stroke="#000" stroke-width="1.3" stroke-linecap="butt"/>
<line x1="58.18" y1="218" x2="58.18" y2="227.3" stroke="#000" stroke-width="1.2" stroke-linecap="butt"/>
<line x1="54.68" y1="218" x2="61.68" y2="218" stroke="#000" stroke-width="1.3" stroke-linecap="butt"/>
<line x1="54.68" y1="227.3" x2="61.68" y2="227.3" stroke="#000" stroke-width="1.3" stroke-linecap="butt"/>
<line x1="74.26" y1="209.7" x2="74.26" y2="225.7" stroke="#000" stroke-width="1.2" stroke-linecap="butt"/>
<line x1="70.76" y1="209.7" x2="77.76" y2="209.7" stroke="#000" stroke-width="1.3" stroke-linecap="butt"/>
<line x1="70.76" y1="225.7" x2="77.76" y2="225.7" stroke="#000" stroke-width="1.3" stroke-linecap="butt"/>
<line x1="90.34" y1="202.8" x2="90.34" y2="216" stroke="#000" stroke-width="1.2" stroke-linecap="butt"/>
<line x1="86.84" y1="202.8" x2="93.84" y2="202.8" stroke="#000" stroke-width="1.3" stroke-linecap="butt"/>
<line x1="86.84" y1="216" x2="93.84" y2="216" stroke="#000" stroke-width="1.3" stroke-linecap="butt"/>
<line x1="106.42" y1="200" x2="106.42" y2="210.5" stroke="#000" stroke-width="1.2" stroke-linecap="butt"/>
<line x1="102.92" y1="200" x2="109.92" y2="200" stroke="#000" stroke-width="1.3" stroke-linecap="butt"/>
<line x1="102.92" y1="210.5" x2="109.92" y2="210.5" stroke="#000" stroke-width="1.3" stroke-linecap="butt"/>
<line x1="122.5" y1="201.8" x2="122.5" y2="210" stroke="#000" stroke-width="1.2" stroke-linecap="butt"/>
<line x1="119" y1="201.8" x2="126" y2="201.8" stroke="#000" stroke-width="1.3" stroke-linecap="butt"/>
<line x1="119" y1="210" x2="126" y2="210" stroke="#000" stroke-width="1.3" stroke-linecap="butt"/>
<line x1="138.58" y1="204.2" x2="138.58" y2="220.5" stroke="#000" stroke-width="1.2" stroke-linecap="butt"/>
<line x1="135.08" y1="204.2" x2="142.08" y2="204.2" stroke="#000" stroke-width="1.3" stroke-linecap="butt"/>
<line x1="135.08" y1="220.5" x2="142.08" y2="220.5" stroke="#000" stroke-width="1.3" stroke-linecap="butt"/>
<line x1="154.66" y1="213.6" x2="154.66" y2="228" stroke="#000" stroke-width="1.2" stroke-linecap="butt"/>
<line x1="151.16" y1="213.6" x2="158.16" y2="213.6" stroke="#000" stroke-width="1.3" stroke-linecap="butt"/>
<line x1="151.16" y1="228" x2="158.16" y2="228" stroke="#000" stroke-width="1.3" stroke-linecap="butt"/>
<polyline points="42.1,188.6 50.14,202.2 58.18,211.3 74.26,218 90.34,214.8 106.42,206 122.5,208.5 138.58,234.9 154.66,226.2 170.74,258.3" fill="none" stroke="#000" stroke-width="1.8" stroke-linejoin="round"/>
<polyline points="42.1,191.2 50.14,205.9 58.18,222.5 74.26,216.2 90.34,209.5 106.42,206.5 122.5,206 138.58,211.9 154.66,220.9 170.74,232.7" fill="none" stroke="#000" stroke-width="1.8" stroke-linejoin="round"/>
<circle cx="42.1" cy="188.6" r="3.85" fill="#a800e4" stroke="#000" stroke-width="1.5"/>
<circle cx="50.14" cy="202.2" r="3.85" fill="#a800e4" stroke="#000" stroke-width="1.5"/>
<circle cx="58.18" cy="211.3" r="3.85" fill="#a800e4" stroke="#000" stroke-width="1.5"/>
<circle cx="74.26" cy="218" r="3.85" fill="#a800e4" stroke="#000" stroke-width="1.5"/>
<circle cx="90.34" cy="214.8" r="3.85" fill="#a800e4" stroke="#000" stroke-width="1.5"/>
<circle cx="106.42" cy="206" r="3.85" fill="#a800e4" stroke="#000" stroke-width="1.5"/>
<circle cx="122.5" cy="208.5" r="3.85" fill="#a800e4" stroke="#000" stroke-width="1.5"/>
<circle cx="138.58" cy="234.9" r="3.85" fill="#a800e4" stroke="#000" stroke-width="1.5"/>
<circle cx="154.66" cy="226.2" r="3.85" fill="#a800e4" stroke="#000" stroke-width="1.5"/>
<circle cx="170.74" cy="258.3" r="3.85" fill="#a800e4" stroke="#000" stroke-width="1.5"/>
<circle cx="42.1" cy="191.2" r="3.85" fill="#f8f000" stroke="#000" stroke-width="1.5"/>
<circle cx="50.14" cy="205.9" r="3.85" fill="#f8f000" stroke="#000" stroke-width="1.5"/>
<circle cx="58.18" cy="222.5" r="3.85" fill="#f8f000" stroke="#000" stroke-width="1.5"/>
<circle cx="74.26" cy="216.2" r="3.85" fill="#f8f000" stroke="#000" stroke-width="1.5"/>
<circle cx="90.34" cy="209.5" r="3.85" fill="#f8f000" stroke="#000" stroke-width="1.5"/>
<circle cx="106.42" cy="206.5" r="3.85" fill="#f8f000" stroke="#000" stroke-width="1.5"/>
<circle cx="122.5" cy="206" r="3.85" fill="#f8f000" stroke="#000" stroke-width="1.5"/>
<circle cx="138.58" cy="211.9" r="3.85" fill="#f8f000" stroke="#000" stroke-width="1.5"/>
<circle cx="154.66" cy="220.9" r="3.85" fill="#f8f000" stroke="#000" stroke-width="1.5"/>
<circle cx="170.74" cy="232.7" r="3.85" fill="#f8f000" stroke="#000" stroke-width="1.5"/>
<line x1="36.2" y1="275.5" x2="176.4" y2="275.5" stroke="#000" stroke-width="2" stroke-linecap="butt"/>
<line x1="42.1" y1="275.5" x2="42.1" y2="279.5" stroke="#000" stroke-width="1.5" stroke-linecap="butt"/>
<text x="41" y="289.9" font-size="7.8" font-weight="bold" text-anchor="middle">0</text>
<line x1="47.46" y1="275.5" x2="47.46" y2="278.1" stroke="#000" stroke-width="1.1" stroke-linecap="butt"/>
<line x1="52.82" y1="275.5" x2="52.82" y2="278.1" stroke="#000" stroke-width="1.1" stroke-linecap="butt"/>
<line x1="58.18" y1="275.5" x2="58.18" y2="278.1" stroke="#000" stroke-width="1.1" stroke-linecap="butt"/>
<line x1="63.54" y1="275.5" x2="63.54" y2="279.5" stroke="#000" stroke-width="1.5" stroke-linecap="butt"/>
<text x="62.44" y="289.9" font-size="7.8" font-weight="bold" text-anchor="middle">4</text>
<line x1="68.9" y1="275.5" x2="68.9" y2="278.1" stroke="#000" stroke-width="1.1" stroke-linecap="butt"/>
<line x1="74.26" y1="275.5" x2="74.26" y2="278.1" stroke="#000" stroke-width="1.1" stroke-linecap="butt"/>
<line x1="79.62" y1="275.5" x2="79.62" y2="278.1" stroke="#000" stroke-width="1.1" stroke-linecap="butt"/>
<line x1="84.98" y1="275.5" x2="84.98" y2="279.5" stroke="#000" stroke-width="1.5" stroke-linecap="butt"/>
<text x="83.88" y="289.9" font-size="7.8" font-weight="bold" text-anchor="middle">8</text>
<line x1="90.34" y1="275.5" x2="90.34" y2="278.1" stroke="#000" stroke-width="1.1" stroke-linecap="butt"/>
<line x1="95.7" y1="275.5" x2="95.7" y2="278.1" stroke="#000" stroke-width="1.1" stroke-linecap="butt"/>
<line x1="101.06" y1="275.5" x2="101.06" y2="278.1" stroke="#000" stroke-width="1.1" stroke-linecap="butt"/>
<line x1="106.42" y1="275.5" x2="106.42" y2="279.5" stroke="#000" stroke-width="1.5" stroke-linecap="butt"/>
<text x="105.32" y="289.9" font-size="7.8" font-weight="bold" text-anchor="middle">12</text>
<line x1="111.78" y1="275.5" x2="111.78" y2="278.1" stroke="#000" stroke-width="1.1" stroke-linecap="butt"/>
<line x1="117.14" y1="275.5" x2="117.14" y2="278.1" stroke="#000" stroke-width="1.1" stroke-linecap="butt"/>
<line x1="122.5" y1="275.5" x2="122.5" y2="278.1" stroke="#000" stroke-width="1.1" stroke-linecap="butt"/>
<line x1="127.86" y1="275.5" x2="127.86" y2="279.5" stroke="#000" stroke-width="1.5" stroke-linecap="butt"/>
<text x="126.76" y="289.9" font-size="7.8" font-weight="bold" text-anchor="middle">16</text>
<line x1="133.22" y1="275.5" x2="133.22" y2="278.1" stroke="#000" stroke-width="1.1" stroke-linecap="butt"/>
<line x1="138.58" y1="275.5" x2="138.58" y2="278.1" stroke="#000" stroke-width="1.1" stroke-linecap="butt"/>
<line x1="143.94" y1="275.5" x2="143.94" y2="278.1" stroke="#000" stroke-width="1.1" stroke-linecap="butt"/>
<line x1="149.3" y1="275.5" x2="149.3" y2="279.5" stroke="#000" stroke-width="1.5" stroke-linecap="butt"/>
<text x="148.2" y="289.9" font-size="7.8" font-weight="bold" text-anchor="middle">20</text>
<line x1="154.66" y1="275.5" x2="154.66" y2="278.1" stroke="#000" stroke-width="1.1" stroke-linecap="butt"/>
<line x1="160.02" y1="275.5" x2="160.02" y2="278.1" stroke="#000" stroke-width="1.1" stroke-linecap="butt"/>
<line x1="165.38" y1="275.5" x2="165.38" y2="278.1" stroke="#000" stroke-width="1.1" stroke-linecap="butt"/>
<line x1="170.74" y1="275.5" x2="170.74" y2="279.5" stroke="#000" stroke-width="1.5" stroke-linecap="butt"/>
<text x="169.64" y="289.9" font-size="7.8" font-weight="bold" text-anchor="middle">24</text>
<text x="71.9" y="301.7" font-size="7.8" font-weight="bold" text-anchor="start">Time at 4°C (hr)</text>
<circle cx="61.2" cy="241.6" r="3.85" fill="#a800e4" stroke="#000" stroke-width="1.8"/>
<text x="69.8" y="244.3" font-size="7.8" font-weight="bold" text-anchor="start">WT</text>
<circle cx="61.2" cy="252.7" r="3.85" fill="#f8f000" stroke="#000" stroke-width="1.8"/>
<text x="69.8" y="255.4" font-size="7.8" font-weight="bold" text-anchor="start">KO</text>
<text x="7.2" y="236.8" font-size="7.5" font-weight="bold" text-anchor="middle" transform="rotate(-90 7.2 236.8)" textLength="45.8" lengthAdjust="spacingAndGlyphs">Temperature</text>
<text x="19" y="237.2" font-size="7.5" font-weight="bold" text-anchor="middle" transform="rotate(-90 19 237.2)" textLength="49" lengthAdjust="spacingAndGlyphs">decrease (°C)</text>
<text x="201.6" y="177.6" font-size="14" font-weight="bold" text-anchor="start">e</text>
<line x1="224.6" y1="181.2" x2="224.6" y2="275.6" stroke="#000" stroke-width="2" stroke-linecap="butt"/>
<line x1="221" y1="190.5" x2="224.6" y2="190.5" stroke="#000" stroke-width="1.5" stroke-linecap="butt"/>
<text x="218.3" y="193.4" font-size="7.3" font-weight="bold" text-anchor="end">0</text>
<line x1="221" y1="207.35" x2="224.6" y2="207.35" stroke="#000" stroke-width="1.5" stroke-linecap="butt"/>
<text x="218.3" y="210.25" font-size="7.3" font-weight="bold" text-anchor="end">-1</text>
<line x1="221" y1="224.2" x2="224.6" y2="224.2" stroke="#000" stroke-width="1.5" stroke-linecap="butt"/>
<text x="218.3" y="227.1" font-size="7.3" font-weight="bold" text-anchor="end">-2</text>
<line x1="221" y1="241.05" x2="224.6" y2="241.05" stroke="#000" stroke-width="1.5" stroke-linecap="butt"/>
<text x="218.3" y="243.95" font-size="7.3" font-weight="bold" text-anchor="end">-3</text>
<line x1="221" y1="257.9" x2="224.6" y2="257.9" stroke="#000" stroke-width="1.5" stroke-linecap="butt"/>
<text x="218.3" y="260.8" font-size="7.3" font-weight="bold" text-anchor="end">-4</text>
<line x1="221" y1="274.75" x2="224.6" y2="274.75" stroke="#000" stroke-width="1.5" stroke-linecap="butt"/>
<text x="218.3" y="277.65" font-size="7.3" font-weight="bold" text-anchor="end">-5</text>
<line x1="222.3" y1="271.38" x2="224.6" y2="271.38" stroke="#000" stroke-width="1" stroke-linecap="butt"/>
<line x1="222.3" y1="268.01" x2="224.6" y2="268.01" stroke="#000" stroke-width="1" stroke-linecap="butt"/>
<line x1="222.3" y1="264.64" x2="224.6" y2="264.64" stroke="#000" stroke-width="1" stroke-linecap="butt"/>
<line x1="222.3" y1="261.27" x2="224.6" y2="261.27" stroke="#000" stroke-width="1" stroke-linecap="butt"/>
<line x1="222.3" y1="254.53" x2="224.6" y2="254.53" stroke="#000" stroke-width="1" stroke-linecap="butt"/>
<line x1="222.3" y1="251.16" x2="224.6" y2="251.16" stroke="#000" stroke-width="1" stroke-linecap="butt"/>
<line x1="222.3" y1="247.79" x2="224.6" y2="247.79" stroke="#000" stroke-width="1" stroke-linecap="butt"/>
<line x1="222.3" y1="244.42" x2="224.6" y2="244.42" stroke="#000" stroke-width="1" stroke-linecap="butt"/>
<line x1="222.3" y1="237.68" x2="224.6" y2="237.68" stroke="#000" stroke-width="1" stroke-linecap="butt"/>
<line x1="222.3" y1="234.31" x2="224.6" y2="234.31" stroke="#000" stroke-width="1" stroke-linecap="butt"/>
<line x1="222.3" y1="230.94" x2="224.6" y2="230.94" stroke="#000" stroke-width="1" stroke-linecap="butt"/>
<line x1="222.3" y1="227.57" x2="224.6" y2="227.57" stroke="#000" stroke-width="1" stroke-linecap="butt"/>
<line x1="222.3" y1="220.83" x2="224.6" y2="220.83" stroke="#000" stroke-width="1" stroke-linecap="butt"/>
<line x1="222.3" y1="217.46" x2="224.6" y2="217.46" stroke="#000" stroke-width="1" stroke-linecap="butt"/>
<line x1="222.3" y1="214.09" x2="224.6" y2="214.09" stroke="#000" stroke-width="1" stroke-linecap="butt"/>
<line x1="222.3" y1="210.72" x2="224.6" y2="210.72" stroke="#000" stroke-width="1" stroke-linecap="butt"/>
<line x1="222.3" y1="203.98" x2="224.6" y2="203.98" stroke="#000" stroke-width="1" stroke-linecap="butt"/>
<line x1="222.3" y1="200.61" x2="224.6" y2="200.61" stroke="#000" stroke-width="1" stroke-linecap="butt"/>
<line x1="222.3" y1="197.24" x2="224.6" y2="197.24" stroke="#000" stroke-width="1" stroke-linecap="butt"/>
<line x1="222.3" y1="193.87" x2="224.6" y2="193.87" stroke="#000" stroke-width="1" stroke-linecap="butt"/>
<line x1="222.3" y1="187.13" x2="224.6" y2="187.13" stroke="#000" stroke-width="1" stroke-linecap="butt"/>
<line x1="222.3" y1="183.76" x2="224.6" y2="183.76" stroke="#000" stroke-width="1" stroke-linecap="butt"/>
<polyline points="229.9,190.5 237.96,200.4 246.01,205.1 262.12,217.6 278.23,225.9 294.34,239.8 310.45,245.7 326.56,252.6 342.67,258.3 358.78,258.8" fill="none" stroke="#000" stroke-width="1.8" stroke-linejoin="round"/>
<polyline points="229.9,190.5 237.96,206.3 246.01,215.5 262.12,224.4 278.23,235.2 294.34,247.8 310.45,252.6 326.56,259.9 342.67,264.8 358.78,264.8" fill="none" stroke="#000" stroke-width="1.8" stroke-linejoin="round"/>
<circle cx="229.9" cy="190.5" r="3.85" fill="#a800e4" stroke="#000" stroke-width="1.5"/>
<circle cx="237.96" cy="200.4" r="3.85" fill="#a800e4" stroke="#000" stroke-width="1.5"/>
<circle cx="246.01" cy="205.1" r="3.85" fill="#a800e4" stroke="#000" stroke-width="1.5"/>
<circle cx="262.12" cy="217.6" r="3.85" fill="#a800e4" stroke="#000" stroke-width="1.5"/>
<circle cx="278.23" cy="225.9" r="3.85" fill="#a800e4" stroke="#000" stroke-width="1.5"/>
<circle cx="294.34" cy="239.8" r="3.85" fill="#a800e4" stroke="#000" stroke-width="1.5"/>
<circle cx="310.45" cy="245.7" r="3.85" fill="#a800e4" stroke="#000" stroke-width="1.5"/>
<circle cx="326.56" cy="252.6" r="3.85" fill="#a800e4" stroke="#000" stroke-width="1.5"/>
<circle cx="342.67" cy="258.3" r="3.85" fill="#a800e4" stroke="#000" stroke-width="1.5"/>
<circle cx="358.78" cy="258.8" r="3.85" fill="#a800e4" stroke="#000" stroke-width="1.5"/>
<circle cx="229.9" cy="190.5" r="3.85" fill="#f8f000" stroke="#000" stroke-width="1.5"/>
<circle cx="237.96" cy="206.3" r="3.85" fill="#f8f000" stroke="#000" stroke-width="1.5"/>
<circle cx="246.01" cy="215.5" r="3.85" fill="#f8f000" stroke="#000" stroke-width="1.5"/>
<circle cx="262.12" cy="224.4" r="3.85" fill="#f8f000" stroke="#000" stroke-width="1.5"/>
<circle cx="278.23" cy="235.2" r="3.85" fill="#f8f000" stroke="#000" stroke-width="1.5"/>
<circle cx="294.34" cy="247.8" r="3.85" fill="#f8f000" stroke="#000" stroke-width="1.5"/>
<circle cx="310.45" cy="252.6" r="3.85" fill="#f8f000" stroke="#000" stroke-width="1.5"/>
<circle cx="326.56" cy="259.9" r="3.85" fill="#f8f000" stroke="#000" stroke-width="1.5"/>
<circle cx="342.67" cy="264.8" r="3.85" fill="#f8f000" stroke="#000" stroke-width="1.5"/>
<circle cx="358.78" cy="264.8" r="3.85" fill="#f8f000" stroke="#000" stroke-width="1.5"/>
<line x1="223.6" y1="274.6" x2="364.5" y2="274.6" stroke="#000" stroke-width="2" stroke-linecap="butt"/>
<line x1="229.9" y1="274.6" x2="229.9" y2="278.6" stroke="#000" stroke-width="1.5" stroke-linecap="butt"/>
<text x="229.2" y="287.1" font-size="7.8" font-weight="bold" text-anchor="middle">0</text>
<line x1="235.27" y1="274.6" x2="235.27" y2="277.2" stroke="#000" stroke-width="1.1" stroke-linecap="butt"/>
<line x1="240.64" y1="274.6" x2="240.64" y2="277.2" stroke="#000" stroke-width="1.1" stroke-linecap="butt"/>
<line x1="246.01" y1="274.6" x2="246.01" y2="277.2" stroke="#000" stroke-width="1.1" stroke-linecap="butt"/>
<line x1="251.38" y1="274.6" x2="251.38" y2="278.6" stroke="#000" stroke-width="1.5" stroke-linecap="butt"/>
<text x="250.68" y="287.1" font-size="7.8" font-weight="bold" text-anchor="middle">4</text>
<line x1="256.75" y1="274.6" x2="256.75" y2="277.2" stroke="#000" stroke-width="1.1" stroke-linecap="butt"/>
<line x1="262.12" y1="274.6" x2="262.12" y2="277.2" stroke="#000" stroke-width="1.1" stroke-linecap="butt"/>
<line x1="267.49" y1="274.6" x2="267.49" y2="277.2" stroke="#000" stroke-width="1.1" stroke-linecap="butt"/>
<line x1="272.86" y1="274.6" x2="272.86" y2="278.6" stroke="#000" stroke-width="1.5" stroke-linecap="butt"/>
<text x="272.16" y="287.1" font-size="7.8" font-weight="bold" text-anchor="middle">8</text>
<line x1="278.23" y1="274.6" x2="278.23" y2="277.2" stroke="#000" stroke-width="1.1" stroke-linecap="butt"/>
<line x1="283.6" y1="274.6" x2="283.6" y2="277.2" stroke="#000" stroke-width="1.1" stroke-linecap="butt"/>
<line x1="288.97" y1="274.6" x2="288.97" y2="277.2" stroke="#000" stroke-width="1.1" stroke-linecap="butt"/>
<line x1="294.34" y1="274.6" x2="294.34" y2="278.6" stroke="#000" stroke-width="1.5" stroke-linecap="butt"/>
<text x="293.64" y="287.1" font-size="7.8" font-weight="bold" text-anchor="middle">12</text>
<line x1="299.71" y1="274.6" x2="299.71" y2="277.2" stroke="#000" stroke-width="1.1" stroke-linecap="butt"/>
<line x1="305.08" y1="274.6" x2="305.08" y2="277.2" stroke="#000" stroke-width="1.1" stroke-linecap="butt"/>
<line x1="310.45" y1="274.6" x2="310.45" y2="277.2" stroke="#000" stroke-width="1.1" stroke-linecap="butt"/>
<line x1="315.82" y1="274.6" x2="315.82" y2="278.6" stroke="#000" stroke-width="1.5" stroke-linecap="butt"/>
<text x="315.12" y="287.1" font-size="7.8" font-weight="bold" text-anchor="middle">16</text>
<line x1="321.19" y1="274.6" x2="321.19" y2="277.2" stroke="#000" stroke-width="1.1" stroke-linecap="butt"/>
<line x1="326.56" y1="274.6" x2="326.56" y2="277.2" stroke="#000" stroke-width="1.1" stroke-linecap="butt"/>
<line x1="331.93" y1="274.6" x2="331.93" y2="277.2" stroke="#000" stroke-width="1.1" stroke-linecap="butt"/>
<line x1="337.3" y1="274.6" x2="337.3" y2="278.6" stroke="#000" stroke-width="1.5" stroke-linecap="butt"/>
<text x="336.6" y="287.1" font-size="7.8" font-weight="bold" text-anchor="middle">20</text>
<line x1="342.67" y1="274.6" x2="342.67" y2="277.2" stroke="#000" stroke-width="1.1" stroke-linecap="butt"/>
<line x1="348.04" y1="274.6" x2="348.04" y2="277.2" stroke="#000" stroke-width="1.1" stroke-linecap="butt"/>
<line x1="353.41" y1="274.6" x2="353.41" y2="277.2" stroke="#000" stroke-width="1.1" stroke-linecap="butt"/>
<line x1="358.78" y1="274.6" x2="358.78" y2="278.6" stroke="#000" stroke-width="1.5" stroke-linecap="butt"/>
<text x="358.08" y="287.1" font-size="7.8" font-weight="bold" text-anchor="middle">24</text>
<text x="265.2" y="297.7" font-size="7.8" font-weight="bold" text-anchor="start">Time at 4°C (hr)</text>
<circle cx="309.6" cy="192.6" r="3.85" fill="#a800e4" stroke="#000" stroke-width="1.8"/>
<text x="318.1" y="195.7" font-size="7.8" font-weight="bold" text-anchor="start">WT</text>
<circle cx="309.6" cy="205.1" r="3.85" fill="#f8f000" stroke="#000" stroke-width="1.8"/>
<text x="318.1" y="208" font-size="7.8" font-weight="bold" text-anchor="start">KO</text>
<text x="207.5" y="237.15" font-size="7.6" font-weight="bold" text-anchor="middle" transform="rotate(-90 207.5 237.15)" textLength="54.5" lengthAdjust="spacingAndGlyphs">Weight loss (g)</text>
<text x="393.4" y="180.2" font-size="13.5" font-weight="bold" text-anchor="start">f</text>
<line x1="421.2" y1="183.3" x2="421.2" y2="277.1" stroke="#000" stroke-width="2" stroke-linecap="butt"/>
<line x1="417.6" y1="188" x2="421.2" y2="188" stroke="#000" stroke-width="1.5" stroke-linecap="butt"/>
<text x="414.9" y="190.5" font-size="7.3" font-weight="bold" text-anchor="end">0</text>
<line x1="417.6" y1="208.05" x2="421.2" y2="208.05" stroke="#000" stroke-width="1.5" stroke-linecap="butt"/>
<text x="414.9" y="210.55" font-size="7.3" font-weight="bold" text-anchor="end">-5</text>
<line x1="417.6" y1="228.1" x2="421.2" y2="228.1" stroke="#000" stroke-width="1.5" stroke-linecap="butt"/>
<text x="414.9" y="230.6" font-size="7.3" font-weight="bold" text-anchor="end">-10</text>
<line x1="417.6" y1="248.15" x2="421.2" y2="248.15" stroke="#000" stroke-width="1.5" stroke-linecap="butt"/>
<text x="414.9" y="250.65" font-size="7.3" font-weight="bold" text-anchor="end">-15</text>
<line x1="417.6" y1="268.2" x2="421.2" y2="268.2" stroke="#000" stroke-width="1.5" stroke-linecap="butt"/>
<text x="414.9" y="270.7" font-size="7.3" font-weight="bold" text-anchor="end">-20</text>
<line x1="418.9" y1="272.21" x2="421.2" y2="272.21" stroke="#000" stroke-width="1" stroke-linecap="butt"/>
<line x1="418.9" y1="264.19" x2="421.2" y2="264.19" stroke="#000" stroke-width="1" stroke-linecap="butt"/>
<line x1="418.9" y1="260.18" x2="421.2" y2="260.18" stroke="#000" stroke-width="1" stroke-linecap="butt"/>
<line x1="418.9" y1="256.17" x2="421.2" y2="256.17" stroke="#000" stroke-width="1" stroke-linecap="butt"/>
<line x1="418.9" y1="252.16" x2="421.2" y2="252.16" stroke="#000" stroke-width="1" stroke-linecap="butt"/>
<line x1="418.9" y1="244.14" x2="421.2" y2="244.14" stroke="#000" stroke-width="1" stroke-linecap="butt"/>
<line x1="418.9" y1="240.13" x2="421.2" y2="240.13" stroke="#000" stroke-width="1" stroke-linecap="butt"/>
<line x1="418.9" y1="236.12" x2="421.2" y2="236.12" stroke="#000" stroke-width="1" stroke-linecap="butt"/>
<line x1="418.9" y1="232.11" x2="421.2" y2="232.11" stroke="#000" stroke-width="1" stroke-linecap="butt"/>
<line x1="418.9" y1="224.09" x2="421.2" y2="224.09" stroke="#000" stroke-width="1" stroke-linecap="butt"/>
<line x1="418.9" y1="220.08" x2="421.2" y2="220.08" stroke="#000" stroke-width="1" stroke-linecap="butt"/>
<line x1="418.9" y1="216.07" x2="421.2" y2="216.07" stroke="#000" stroke-width="1" stroke-linecap="butt"/>
<line x1="418.9" y1="212.06" x2="421.2" y2="212.06" stroke="#000" stroke-width="1" stroke-linecap="butt"/>
<line x1="418.9" y1="204.04" x2="421.2" y2="204.04" stroke="#000" stroke-width="1" stroke-linecap="butt"/>
<line x1="418.9" y1="200.03" x2="421.2" y2="200.03" stroke="#000" stroke-width="1" stroke-linecap="butt"/>
<line x1="418.9" y1="196.02" x2="421.2" y2="196.02" stroke="#000" stroke-width="1" stroke-linecap="butt"/>
<line x1="418.9" y1="192.01" x2="421.2" y2="192.01" stroke="#000" stroke-width="1" stroke-linecap="butt"/>
<line x1="418.9" y1="183.99" x2="421.2" y2="183.99" stroke="#000" stroke-width="1" stroke-linecap="butt"/>
<polyline points="428.8,188 436.69,199.5 444.58,205.6 460.36,220.4 476.14,229.8 491.92,246.5 507.7,253.8 523.48,263.1 539.26,269.7 555.04,269.7" fill="none" stroke="#000" stroke-width="1.8" stroke-linejoin="round"/>
<polyline points="428.8,188 436.69,205.6 444.58,215.2 460.36,225.4 476.14,237.3 491.92,251.1 507.7,256.3 523.48,264.6 539.26,269.7 555.04,269.7" fill="none" stroke="#000" stroke-width="1.8" stroke-linejoin="round"/>
<circle cx="428.8" cy="188" r="3.85" fill="#a800e4" stroke="#000" stroke-width="1.5"/>
<circle cx="436.69" cy="199.5" r="3.85" fill="#a800e4" stroke="#000" stroke-width="1.5"/>
<circle cx="444.58" cy="205.6" r="3.85" fill="#a800e4" stroke="#000" stroke-width="1.5"/>
<circle cx="460.36" cy="220.4" r="3.85" fill="#a800e4" stroke="#000" stroke-width="1.5"/>
<circle cx="476.14" cy="229.8" r="3.85" fill="#a800e4" stroke="#000" stroke-width="1.5"/>
<circle cx="491.92" cy="246.5" r="3.85" fill="#a800e4" stroke="#000" stroke-width="1.5"/>
<circle cx="507.7" cy="253.8" r="3.85" fill="#a800e4" stroke="#000" stroke-width="1.5"/>
<circle cx="523.48" cy="263.1" r="3.85" fill="#a800e4" stroke="#000" stroke-width="1.5"/>
<circle cx="539.26" cy="269.7" r="3.85" fill="#a800e4" stroke="#000" stroke-width="1.5"/>
<circle cx="555.04" cy="269.7" r="3.85" fill="#a800e4" stroke="#000" stroke-width="1.5"/>
<circle cx="428.8" cy="188" r="3.85" fill="#f8f000" stroke="#000" stroke-width="1.5"/>
<circle cx="436.69" cy="205.6" r="3.85" fill="#f8f000" stroke="#000" stroke-width="1.5"/>
<circle cx="444.58" cy="215.2" r="3.85" fill="#f8f000" stroke="#000" stroke-width="1.5"/>
<circle cx="460.36" cy="225.4" r="3.85" fill="#f8f000" stroke="#000" stroke-width="1.5"/>
<circle cx="476.14" cy="237.3" r="3.85" fill="#f8f000" stroke="#000" stroke-width="1.5"/>
<circle cx="491.92" cy="251.1" r="3.85" fill="#f8f000" stroke="#000" stroke-width="1.5"/>
<circle cx="507.7" cy="256.3" r="3.85" fill="#f8f000" stroke="#000" stroke-width="1.5"/>
<circle cx="523.48" cy="264.6" r="3.85" fill="#f8f000" stroke="#000" stroke-width="1.5"/>
<circle cx="539.26" cy="269.7" r="3.85" fill="#f8f000" stroke="#000" stroke-width="1.5"/>
<circle cx="555.04" cy="269.7" r="3.85" fill="#f8f000" stroke="#000" stroke-width="1.5"/>
<line x1="420.2" y1="276.1" x2="561" y2="276.1" stroke="#000" stroke-width="2" stroke-linecap="butt"/>
<line x1="428.8" y1="276.1" x2="428.8" y2="280.1" stroke="#000" stroke-width="1.5" stroke-linecap="butt"/>
<text x="430" y="288.8" font-size="7.8" font-weight="bold" text-anchor="middle">0</text>
<line x1="434.06" y1="276.1" x2="434.06" y2="278.7" stroke="#000" stroke-width="1.1" stroke-linecap="butt"/>
<line x1="439.32" y1="276.1" x2="439.32" y2="278.7" stroke="#000" stroke-width="1.1" stroke-linecap="butt"/>
<line x1="444.58" y1="276.1" x2="444.58" y2="278.7" stroke="#000" stroke-width="1.1" stroke-linecap="butt"/>
<line x1="449.84" y1="276.1" x2="449.84" y2="280.1" stroke="#000" stroke-width="1.5" stroke-linecap="butt"/>
<text x="451.04" y="288.8" font-size="7.8" font-weight="bold" text-anchor="middle">4</text>
<line x1="455.1" y1="276.1" x2="455.1" y2="278.7" stroke="#000" stroke-width="1.1" stroke-linecap="butt"/>
<line x1="460.36" y1="276.1" x2="460.36" y2="278.7" stroke="#000" stroke-width="1.1" stroke-linecap="butt"/>
<line x1="465.62" y1="276.1" x2="465.62" y2="278.7" stroke="#000" stroke-width="1.1" stroke-linecap="butt"/>
<line x1="470.88" y1="276.1" x2="470.88" y2="280.1" stroke="#000" stroke-width="1.5" stroke-linecap="butt"/>
<text x="472.08" y="288.8" font-size="7.8" font-weight="bold" text-anchor="middle">8</text>
<line x1="476.14" y1="276.1" x2="476.14" y2="278.7" stroke="#000" stroke-width="1.1" stroke-linecap="butt"/>
<line x1="481.4" y1="276.1" x2="481.4" y2="278.7" stroke="#000" stroke-width="1.1" stroke-linecap="butt"/>
<line x1="486.66" y1="276.1" x2="486.66" y2="278.7" stroke="#000" stroke-width="1.1" stroke-linecap="butt"/>
<line x1="491.92" y1="276.1" x2="491.92" y2="280.1" stroke="#000" stroke-width="1.5" stroke-linecap="butt"/>
<text x="493.12" y="288.8" font-size="7.8" font-weight="bold" text-anchor="middle">12</text>
<line x1="497.18" y1="276.1" x2="497.18" y2="278.7" stroke="#000" stroke-width="1.1" stroke-linecap="butt"/>
<line x1="502.44" y1="276.1" x2="502.44" y2="278.7" stroke="#000" stroke-width="1.1" stroke-linecap="butt"/>
<line x1="507.7" y1="276.1" x2="507.7" y2="278.7" stroke="#000" stroke-width="1.1" stroke-linecap="butt"/>
<line x1="512.96" y1="276.1" x2="512.96" y2="280.1" stroke="#000" stroke-width="1.5" stroke-linecap="butt"/>
<text x="514.16" y="288.8" font-size="7.8" font-weight="bold" text-anchor="middle">16</text>
<line x1="518.22" y1="276.1" x2="518.22" y2="278.7" stroke="#000" stroke-width="1.1" stroke-linecap="butt"/>
<line x1="523.48" y1="276.1" x2="523.48" y2="278.7" stroke="#000" stroke-width="1.1" stroke-linecap="butt"/>
<line x1="528.74" y1="276.1" x2="528.74" y2="278.7" stroke="#000" stroke-width="1.1" stroke-linecap="butt"/>
<line x1="534" y1="276.1" x2="534" y2="280.1" stroke="#000" stroke-width="1.5" stroke-linecap="butt"/>
<text x="535.2" y="288.8" font-size="7.8" font-weight="bold" text-anchor="middle">20</text>
<line x1="539.26" y1="276.1" x2="539.26" y2="278.7" stroke="#000" stroke-width="1.1" stroke-linecap="butt"/>
<line x1="544.52" y1="276.1" x2="544.52" y2="278.7" stroke="#000" stroke-width="1.1" stroke-linecap="butt"/>
<line x1="549.78" y1="276.1" x2="549.78" y2="278.7" stroke="#000" stroke-width="1.1" stroke-linecap="butt"/>
<line x1="555.04" y1="276.1" x2="555.04" y2="280.1" stroke="#000" stroke-width="1.5" stroke-linecap="butt"/>
<text x="556.24" y="288.8" font-size="7.8" font-weight="bold" text-anchor="middle">24</text>
<text x="464.5" y="298.4" font-size="7.8" font-weight="bold" text-anchor="start">Time at 4°C (hr)</text>
<circle cx="431.8" cy="245" r="3.85" fill="#a800e4" stroke="#000" stroke-width="1.8"/>
<text x="440.5" y="247.9" font-size="7.8" font-weight="bold" text-anchor="start">WT</text>
<circle cx="431.8" cy="257.3" r="3.85" fill="#f8f000" stroke="#000" stroke-width="1.8"/>
<text x="440.5" y="260.2" font-size="7.8" font-weight="bold" text-anchor="start">KO</text>
<text x="399.1" y="230" font-size="7.7" font-weight="bold" text-anchor="middle" transform="rotate(-90 399.1 230)" textLength="69.6" lengthAdjust="spacingAndGlyphs">% Weight decrease</text>
<text x="570.5" y="182.1" font-size="14" font-weight="bold" text-anchor="start">g</text>
<line x1="605" y1="184.9" x2="605" y2="279.3" stroke="#000" stroke-width="2" stroke-linecap="butt"/>
<line x1="604" y1="278.3" x2="667.3" y2="278.3" stroke="#000" stroke-width="2" stroke-linecap="butt"/>
<line x1="601.4" y1="185.6" x2="605" y2="185.6" stroke="#000" stroke-width="1.5" stroke-linecap="butt"/>
<text x="597.4" y="188.2" font-size="7" font-weight="bold" text-anchor="end" stroke-width="0.1">-1.0</text>
<line x1="601.4" y1="204.06" x2="605" y2="204.06" stroke="#000" stroke-width="1.5" stroke-linecap="butt"/>
<text x="597.4" y="206.66" font-size="7" font-weight="bold" text-anchor="end" stroke-width="0.1">-1.5</text>
<line x1="601.4" y1="222.52" x2="605" y2="222.52" stroke="#000" stroke-width="1.5" stroke-linecap="butt"/>
<text x="597.4" y="225.12" font-size="7" font-weight="bold" text-anchor="end" stroke-width="0.1">-2.0</text>
<line x1="601.4" y1="240.98" x2="605" y2="240.98" stroke="#000" stroke-width="1.5" stroke-linecap="butt"/>
<text x="597.4" y="243.58" font-size="7" font-weight="bold" text-anchor="end" stroke-width="0.1">-2.5</text>
<line x1="601.4" y1="259.44" x2="605" y2="259.44" stroke="#000" stroke-width="1.5" stroke-linecap="butt"/>
<text x="597.4" y="262.04" font-size="7" font-weight="bold" text-anchor="end" stroke-width="0.1">-3.0</text>
<line x1="601.4" y1="277.9" x2="605" y2="277.9" stroke="#000" stroke-width="1.5" stroke-linecap="butt"/>
<text x="597.4" y="280.5" font-size="7" font-weight="bold" text-anchor="end" stroke-width="0.1">-3.5</text>
<line x1="602.7" y1="268.67" x2="605" y2="268.67" stroke="#000" stroke-width="1" stroke-linecap="butt"/>
<line x1="602.7" y1="250.21" x2="605" y2="250.21" stroke="#000" stroke-width="1" stroke-linecap="butt"/>
<line x1="602.7" y1="231.75" x2="605" y2="231.75" stroke="#000" stroke-width="1" stroke-linecap="butt"/>
<line x1="602.7" y1="213.29" x2="605" y2="213.29" stroke="#000" stroke-width="1" stroke-linecap="butt"/>
<line x1="602.7" y1="194.83" x2="605" y2="194.83" stroke="#000" stroke-width="1" stroke-linecap="butt"/>
<line x1="615.3" y1="233" x2="625.6" y2="233" stroke="#000" stroke-width="1.5" stroke-linecap="butt"/>
<line x1="620.5" y1="227.3" x2="620.5" y2="233" stroke="#000" stroke-width="1.4" stroke-linecap="butt"/>
<circle cx="625.7" cy="205.7" r="3.75" fill="#a800e4" stroke="#000" stroke-width="1.3"/>
<circle cx="615.3" cy="216" r="3.75" fill="#a800e4" stroke="#000" stroke-width="1.3"/>
<circle cx="615.3" cy="229.4" r="3.75" fill="#a800e4" stroke="#000" stroke-width="1.3"/>
<circle cx="625.8" cy="229.4" r="3.75" fill="#a800e4" stroke="#000" stroke-width="1.3"/>
<circle cx="615.3" cy="243" r="3.75" fill="#a800e4" stroke="#000" stroke-width="1.3"/>
<circle cx="625.8" cy="239.7" r="3.75" fill="#a800e4" stroke="#000" stroke-width="1.3"/>
<circle cx="651.1" cy="233" r="3.75" fill="#f8f000" stroke="#000" stroke-width="1.3"/>
<circle cx="646.6" cy="242.6" r="3.75" fill="#f8f000" stroke="#000" stroke-width="1.3"/>
<circle cx="656" cy="242.6" r="3.75" fill="#f8f000" stroke="#000" stroke-width="1.3"/>
<circle cx="651.1" cy="252.9" r="3.75" fill="#f8f000" stroke="#000" stroke-width="1.3"/>
<circle cx="651.1" cy="266.1" r="3.75" fill="#f8f000" stroke="#000" stroke-width="1.3"/>
<line x1="610.8" y1="227.3" x2="630.7" y2="227.3" stroke="#000" stroke-width="1.6" stroke-linecap="butt"/>
<line x1="620.5" y1="221.3" x2="620.5" y2="227.3" stroke="#000" stroke-width="1.4" stroke-linecap="butt"/>
<line x1="615.3" y1="221.3" x2="625.6" y2="221.3" stroke="#000" stroke-width="1.5" stroke-linecap="butt"/>
<line x1="641.2" y1="247.5" x2="661.7" y2="247.5" stroke="#000" stroke-width="1.6" stroke-linecap="butt"/>
<line x1="651.1" y1="241.2" x2="651.1" y2="252.5" stroke="#000" stroke-width="1.4" stroke-linecap="butt"/>
<line x1="646.5" y1="241.2" x2="655.8" y2="241.2" stroke="#000" stroke-width="1.5" stroke-linecap="butt"/>
<line x1="646.5" y1="252.5" x2="655.8" y2="252.5" stroke="#000" stroke-width="1.5" stroke-linecap="butt"/>
<path d="M651.4,225.6L651.4,223.1M651.4,225.6L653.78,224.83M651.4,225.6L652.87,227.62M651.4,225.6L649.93,227.62M651.4,225.6L649.02,224.83" stroke="#000" stroke-width="1.3" stroke-linecap="butt" fill="none"/>
<text x="618.5" y="290" font-size="7.5" font-weight="bold" text-anchor="middle">WT</text>
<text x="649" y="290" font-size="7.5" font-weight="bold" text-anchor="middle">KO</text>
<text x="581.4" y="230" font-size="7.7" font-weight="bold" text-anchor="middle" transform="rotate(-90 581.4 230)" textLength="72.7" lengthAdjust="spacingAndGlyphs">Weight decrease (g)</text>
</svg></body></html>
